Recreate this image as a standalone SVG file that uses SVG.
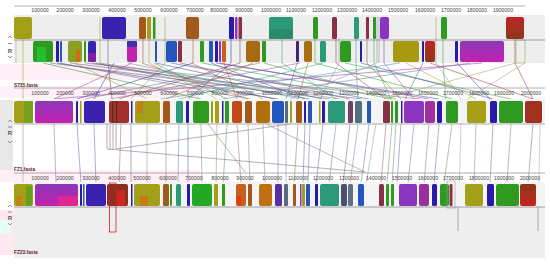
<svg xmlns="http://www.w3.org/2000/svg" width="550" height="264" viewBox="0 0 550 264">
<style>
.t{font-family:"Liberation Sans",Arial,sans-serif;font-size:5.2px;fill:#444;text-anchor:middle}
.lab{font-family:"Liberation Sans",Arial,sans-serif;font-size:4.8px;fill:#5a1f1f;font-weight:bold}
.r{font-family:"Liberation Sans",Arial,sans-serif;font-size:6px;fill:#555;font-weight:bold;text-anchor:middle}
.ctl{fill:none;stroke:#777;stroke-width:0.8}
.ax{stroke:#999;stroke-width:0.8}
rect.b{stroke:none}
.ol{fill:#a3a018}.pb{fill:#3a22b0}.br{fill:#a25a1c}.gr{fill:#2f9a20}.tl{fill:#2a9a78}.mr{fill:#8a3046}
.pu{fill:#8a34c0}.mg{fill:#c024b0}.rd{fill:#c0282a}.bl{fill:#2456c0}.db{fill:#2a1aa8}.gy{fill:#5a6a80}.or{fill:#c8601a}
.bg{fill:#eeeeee}.band{fill:#f4f4f4}
#conn1 line{stroke-width:0.7;opacity:0.75}
#conn2 line{stroke-width:0.8;opacity:0.6}
.v line{stroke-width:0.7;opacity:0.8}
</style>
<defs>
<linearGradient id="pm" x1="0" y1="0" x2="0" y2="1"><stop offset="0" stop-color="#8a38b8"/><stop offset="1" stop-color="#c420b0"/></linearGradient>
<linearGradient id="rb" x1="0" y1="0" x2="0" y2="1"><stop offset="0" stop-color="#c02424"/><stop offset="1" stop-color="#8a3a1a"/></linearGradient>
<linearGradient id="br2" x1="0" y1="0" x2="0" y2="1"><stop offset="0" stop-color="#8a3a1a"/><stop offset="1" stop-color="#c82020"/></linearGradient>
</defs>
<rect width="550" height="264" fill="#ffffff"/>

<!-- faint highlight noise -->
<g opacity="0.4">
<rect x="40" y="30" width="20" height="12" fill="#b8fff0"/>
<rect x="125" y="30" width="20" height="12" fill="#ffc8e0"/>
<rect x="265" y="30" width="35" height="14" fill="#b8fff0"/>
<rect x="300" y="30" width="60" height="12" fill="#ffd0e4"/>
<rect x="395" y="30" width="50" height="12" fill="#ffd0e4"/>
<rect x="480" y="30" width="50" height="12" fill="#ffd0e4"/>
<rect x="0" y="64" width="160" height="16" fill="#ffd8ea"/>
<rect x="0" y="86" width="200" height="12" fill="#ffd8ea"/>
<rect x="0" y="170" width="200" height="12" fill="#ffd8ea"/>
<rect x="0" y="210" width="14" height="45" fill="#ffc8e0"/>
<rect x="0" y="220" width="10" height="14" fill="#b8fff0"/>
</g>

<!-- Panel 1: S735.fasta -->
<g id="s735">
<line class="ax" x1="14" y1="6" x2="525" y2="6"/>
<g>
<text class="t" x="40" y="12">100000</text><text class="t" x="65" y="12">200000</text><text class="t" x="91" y="12">300000</text><text class="t" x="117" y="12">400000</text><text class="t" x="143" y="12">500000</text><text class="t" x="169" y="12">600000</text><text class="t" x="195" y="12">700000</text><text class="t" x="219" y="12">800000</text><text class="t" x="244" y="12">900000</text><text class="t" x="271" y="12">1000000</text><text class="t" x="296" y="12">1100000</text><text class="t" x="322" y="12">1200000</text><text class="t" x="347" y="12">1300000</text><text class="t" x="372" y="12">1400000</text><text class="t" x="398" y="12">1500000</text><text class="t" x="425" y="12">1600000</text><text class="t" x="451" y="12">1700000</text><text class="t" x="477" y="12">1800000</text><text class="t" x="503" y="12">1900000</text>
</g>
<rect class="bg" x="14" y="15" width="531" height="48"/>
<g class="v">
<line x1="23" y1="39" x2="23" y2="63" stroke="#a0a020"/><line x1="16" y1="40" x2="16" y2="63" stroke="#b0b060"/>
<line x1="100" y1="17" x2="100" y2="63" stroke="#a0a040"/><line x1="108" y1="39" x2="108" y2="63" stroke="#6050a0"/>
<line x1="143" y1="39" x2="143" y2="63" stroke="#a06030"/><line x1="149" y1="39" x2="149" y2="63" stroke="#a0a040"/>
<line x1="165" y1="17" x2="165" y2="63" stroke="#a0a040"/><line x1="193" y1="39" x2="193" y2="63" stroke="#a06030"/>
<line x1="231" y1="39" x2="231" y2="63" stroke="#3030a0"/><line x1="240" y1="39" x2="240" y2="63" stroke="#804050"/>
<line x1="282" y1="39" x2="282" y2="63" stroke="#40a080"/><line x1="315" y1="39" x2="315" y2="63" stroke="#40a040"/>
<line x1="336" y1="39" x2="336" y2="63" stroke="#804050"/><line x1="339" y1="39" x2="339" y2="63" stroke="#9090a0"/>
<line x1="356" y1="39" x2="356" y2="63" stroke="#40a090"/><line x1="367" y1="39" x2="367" y2="63" stroke="#806040"/>
<line x1="374" y1="39" x2="374" y2="63" stroke="#40a040"/><line x1="377" y1="17" x2="377" y2="63" stroke="#9090a0"/>
<line x1="379" y1="17" x2="379" y2="63" stroke="#9090a0"/><line x1="384" y1="39" x2="384" y2="63" stroke="#8040c0"/>
<line x1="436" y1="17" x2="436" y2="63" stroke="#a0a060"/><line x1="443" y1="39" x2="443" y2="63" stroke="#40a040"/>
<line x1="515" y1="39" x2="515" y2="63" stroke="#8a3a2a"/>
</g>
<rect x="516" y="40" width="9" height="23" fill="none" stroke="#b0b070" stroke-width="0.7"/>
<line x1="14" y1="40" x2="545" y2="40" stroke="#888" stroke-width="0.8"/>
<!-- upper blocks -->
<rect class="b ol" x="14" y="17" width="18" height="22" rx="2"/>
<rect class="b pb" x="102" y="17" width="24" height="22" rx="2"/>
<rect class="b br" x="139" y="17" width="7" height="22" rx="1.5"/>
<rect class="b ol" x="147" y="17" width="4" height="22" rx="1"/>
<rect class="b gr" x="153" y="17" width="2.5" height="22" rx="1"/>
<rect class="b br" x="186" y="17" width="13" height="22" rx="2"/>
<rect class="b db" x="229" y="17" width="5" height="22" rx="1"/>
<rect class="b pu" x="235" y="17" width="2.5" height="22" rx="1"/>
<rect class="b mr" x="238.5" y="17" width="3.5" height="22" rx="1"/>
<rect class="b tl" x="269" y="17" width="24" height="22" rx="2"/>
<rect x="269" y="29" width="24" height="10" fill="#2a8a6a" rx="1"/>
<rect class="b gr" x="313" y="17" width="5" height="22" rx="1.5"/>
<rect class="b mr" x="332" y="17" width="5" height="22" rx="1.5"/>
<rect class="b tl" x="354" y="17" width="5" height="22" rx="1.5"/>
<rect class="b mr" x="366" y="17" width="3" height="22" rx="1"/>
<rect class="b gr" x="373" y="17" width="3" height="22" rx="1"/>
<rect class="b pu" x="380" y="17" width="9" height="22" rx="2"/>
<rect class="b gr" x="441" y="17" width="6" height="22" rx="1.5"/>
<rect x="506" y="17" width="18" height="22" rx="2" fill="url(#rb)"/>
<!-- lower blocks -->
<rect class="b gr" x="33" y="41" width="20" height="21" rx="2"/>
<rect x="37" y="47" width="9" height="15" fill="#20c830" opacity="0.8"/>
<rect class="b db" x="56" y="41" width="3" height="21" rx="1"/>
<rect class="b bl" x="60" y="41" width="2" height="21" rx="1"/>
<rect class="b" x="68" y="41" width="14" height="21" rx="2" fill="#8aa020"/>
<rect x="76" y="50" width="4" height="12" fill="#e06010" opacity="0.8"/>
<rect class="b gr" x="84" y="41" width="2" height="21" rx="1"/>
<rect class="b pb" x="88" y="41" width="8" height="21" rx="2"/>
<rect x="88" y="53" width="8" height="9" fill="#a020a0" opacity="0.7"/>
<rect class="b mg" x="127" y="41" width="10" height="21" rx="2"/>
<rect x="127" y="41" width="10" height="6" fill="#4030b0" rx="1"/>
<rect class="b bl" x="155" y="41" width="2" height="21" rx="1"/>
<rect class="b bl" x="166" y="41" width="11" height="21" rx="2"/>
<rect class="b mr" x="178" y="41" width="4" height="21" rx="1"/>
<rect class="b gr" x="200" y="41" width="4" height="21" rx="1"/>
<rect class="b bl" x="209" y="41" width="4" height="21" rx="1"/>
<rect class="b db" x="215" y="41" width="3" height="21" rx="1"/>
<rect class="b pu" x="219" y="41" width="2" height="21" rx="1"/>
<rect class="b or" x="222" y="41" width="4" height="21" rx="1"/>
<rect class="b" x="246" y="41" width="14" height="21" rx="2" fill="#a86a10"/>
<rect class="b gr" x="262" y="41" width="4" height="21" rx="1"/>
<rect class="b" x="296" y="41" width="3" height="21" rx="1" fill="#40207a"/>
<rect class="b" x="304" y="41" width="8" height="21" rx="2" fill="#a87010"/>
<rect class="b tl" x="320" y="41" width="6" height="21" rx="1.5"/>
<rect class="b gr" x="340" y="41" width="11" height="21" rx="2"/>
<rect class="b db" x="360" y="41" width="2" height="21" rx="1"/>
<rect class="b" x="393" y="41" width="26" height="21" rx="2" fill="#a89a10"/>
<rect class="b db" x="422" y="41" width="2" height="21" rx="1"/>
<rect x="425" y="41" width="10" height="21" rx="2" fill="url(#rb)"/>
<rect class="b db" x="455" y="41" width="3" height="21" rx="1"/>
<rect x="460" y="41" width="44" height="21" rx="2" fill="url(#pm)"/>
<!-- controls -->
<polyline class="ctl" points="8,38 10,36 12,38"/>
<line class="ctl" x1="8" y1="43.5" x2="12" y2="43.5"/>
<text class="r" x="10" y="53">R</text>
<polyline class="ctl" points="8,56 10,58 12,56"/>
<text class="lab" x="14" y="87">S735.fasta</text>
</g>

<!-- Connectors -->
<g id="conn1">
<line x1="23" y1="63" x2="23" y2="99" stroke="#a0a020"/>
<line x1="43" y1="63" x2="201" y2="99" stroke="#2a8a30"/>
<line x1="57" y1="63" x2="278" y2="99" stroke="#3040a0"/>
<line x1="75" y1="63" x2="147" y2="99" stroke="#9a9a30"/>
<line x1="92" y1="63" x2="310" y2="99" stroke="#4050a0"/>
<line x1="108" y1="63" x2="112" y2="99" stroke="#903040"/>
<line x1="114" y1="63" x2="94" y2="99" stroke="#3a2ab0"/>
<line x1="132" y1="63" x2="54" y2="99" stroke="#b030a0"/>
<line x1="142" y1="63" x2="248" y2="99" stroke="#a06030"/>
<line x1="149" y1="63" x2="217" y2="99" stroke="#a0a040"/>
<line x1="154" y1="63" x2="227" y2="99" stroke="#30a040"/>
<line x1="156" y1="63" x2="323" y2="99" stroke="#3050b0"/>
<line x1="165" y1="63" x2="131" y2="99" stroke="#909040"/>
<line x1="171" y1="63" x2="369" y2="99" stroke="#3060b0"/>
<line x1="180" y1="63" x2="350" y2="99" stroke="#804050"/>
<line x1="193" y1="63" x2="77" y2="99" stroke="#3030a0"/>
<line x1="192" y1="63" x2="263" y2="99" stroke="#a07030"/>
<line x1="202" y1="63" x2="392" y2="99" stroke="#30a040"/>
<line x1="211" y1="63" x2="305" y2="99" stroke="#3050b0"/>
<line x1="216" y1="63" x2="439" y2="99" stroke="#3040a0"/>
<line x1="220" y1="63" x2="429" y2="99" stroke="#a030a0"/>
<line x1="224" y1="63" x2="237" y2="99" stroke="#c04020"/>
<line x1="231" y1="63" x2="188" y2="99" stroke="#3030b0"/>
<line x1="240" y1="63" x2="119" y2="99" stroke="#903040"/>
<line x1="253" y1="63" x2="166" y2="99" stroke="#a06020"/>
<line x1="264" y1="63" x2="396" y2="99" stroke="#30a030"/>
<line x1="282" y1="63" x2="336" y2="99" stroke="#30a080"/>
<line x1="297" y1="63" x2="286" y2="99" stroke="#506080"/>
<line x1="308" y1="63" x2="298" y2="99" stroke="#a06030"/>
<line x1="315" y1="63" x2="452" y2="99" stroke="#30a030"/>
<line x1="323" y1="63" x2="179" y2="99" stroke="#30a080"/>
<line x1="336" y1="63" x2="386" y2="99" stroke="#904050"/>
<line x1="339" y1="63" x2="320" y2="99" stroke="#9090a0"/>
<line x1="345" y1="63" x2="511" y2="99" stroke="#30a030"/>
<line x1="356" y1="63" x2="358" y2="99" stroke="#40a090"/>
<line x1="361" y1="63" x2="493" y2="99" stroke="#3040b0"/>
<line x1="367" y1="63" x2="401" y2="99" stroke="#806040"/>
<line x1="374" y1="63" x2="391" y2="99" stroke="#30a030"/>
<line x1="377" y1="63" x2="290" y2="99" stroke="#9090a0"/>
<line x1="384" y1="63" x2="414" y2="99" stroke="#8040c0"/>
<line x1="406" y1="63" x2="476" y2="99" stroke="#a0a020"/>
<line x1="423" y1="63" x2="405" y2="99" stroke="#505070"/>
<line x1="430" y1="63" x2="533" y2="99" stroke="#a03030"/>
<line x1="436" y1="63" x2="461" y2="99" stroke="#a0a060"/>
<line x1="443" y1="63" x2="446" y2="99" stroke="#30a030"/>
<line x1="457" y1="63" x2="490" y2="99" stroke="#3030b0"/>
<line x1="482" y1="63" x2="54" y2="99" stroke="#a030b0"/>
<line x1="470" y1="63" x2="222" y2="99" stroke="#7070a0"/>
<line x1="515" y1="63" x2="533" y2="99" stroke="#8a3a2a"/>
<line x1="516" y1="63" x2="384" y2="99" stroke="#a0a060"/>
<line x1="525" y1="63" x2="467" y2="99" stroke="#a0a060"/>
<line x1="100" y1="63" x2="340" y2="99" stroke="#707080"/>
<line x1="60" y1="63" x2="250" y2="99" stroke="#707080"/>
<line x1="85" y1="63" x2="420" y2="99" stroke="#707080"/>
<line x1="128" y1="63" x2="300" y2="99" stroke="#40b090"/>
<line x1="70" y1="63" x2="362" y2="99" stroke="#606070"/>
<line x1="96" y1="63" x2="275" y2="99" stroke="#606070"/>
<line x1="50" y1="63" x2="330" y2="99" stroke="#606070"/>
<line x1="300" y1="63" x2="110" y2="99" stroke="#707080"/>
<line x1="260" y1="63" x2="85" y2="99" stroke="#707080"/>
<line x1="400" y1="63" x2="160" y2="99" stroke="#40a0a0"/>
</g>

<g id="conn2">
<line x1="23" y1="124" x2="23" y2="184" stroke="#8a8a50"/>
<line x1="54" y1="124" x2="56" y2="184" stroke="#8a5a9a"/>
<line x1="77" y1="124" x2="81" y2="184" stroke="#5a5a9a"/>
<line x1="94" y1="124" x2="96" y2="184" stroke="#5a5aa0"/>
<line x1="107" y1="124" x2="107" y2="149" stroke="#6a4a5a"/>
<line x1="110" y1="124" x2="110" y2="150" stroke="#6a4a5a"/>
<line x1="113" y1="124" x2="113" y2="150" stroke="#6a4a5a"/>
<line x1="116" y1="124" x2="116" y2="149" stroke="#6a4a5a"/>
<line x1="107" y1="149" x2="365" y2="172" stroke="#6a5a6a"/>
<line x1="116" y1="149" x2="290" y2="124" stroke="#6a5a6a"/>
<line x1="121" y1="124" x2="119" y2="184" stroke="#8a5a5a"/>
<line x1="131" y1="124" x2="131" y2="184" stroke="#5a5a9a"/>
<line x1="147" y1="124" x2="147" y2="184" stroke="#8a8a50"/>
<line x1="166" y1="124" x2="166" y2="184" stroke="#8a6a50"/>
<line x1="179" y1="124" x2="178" y2="184" stroke="#4a8a7a"/>
<line x1="188" y1="124" x2="188" y2="184" stroke="#4a4a9a"/>
<line x1="201" y1="124" x2="202" y2="184" stroke="#5a8a5a"/>
<line x1="208" y1="124" x2="245" y2="172" stroke="#7a6a6a"/>
<line x1="217" y1="124" x2="216" y2="184" stroke="#8a8a50"/>
<line x1="227" y1="124" x2="223" y2="184" stroke="#5a8a5a"/>
<line x1="237" y1="124" x2="241" y2="184" stroke="#8a6a5a"/>
<line x1="248" y1="124" x2="250" y2="184" stroke="#8a6a50"/>
<line x1="263" y1="124" x2="265" y2="184" stroke="#8a7a50"/>
<line x1="266" y1="124" x2="365" y2="172" stroke="#8a6a6a"/>
<line x1="278" y1="124" x2="278" y2="184" stroke="#5a6a9a"/>
<line x1="286" y1="124" x2="286" y2="184" stroke="#6a7a8a"/>
<line x1="298" y1="124" x2="294" y2="184" stroke="#8a6a50"/>
<line x1="305" y1="124" x2="303" y2="184" stroke="#5a5a9a"/>
<line x1="310" y1="124" x2="308" y2="184" stroke="#5a6a9a"/>
<line x1="323" y1="124" x2="316" y2="184" stroke="#5a5a9a"/>
<line x1="336" y1="124" x2="329" y2="184" stroke="#4a8a7a"/>
<line x1="350" y1="124" x2="343" y2="184" stroke="#6a5a6a"/>
<line x1="358" y1="124" x2="350" y2="184" stroke="#6a7a8a"/>
<line x1="369" y1="124" x2="361" y2="184" stroke="#5a6a9a"/>
<line x1="376" y1="124" x2="366" y2="184" stroke="#8a8a9a"/>
<line x1="386" y1="124" x2="381" y2="184" stroke="#8a5a5a"/>
<line x1="392" y1="124" x2="387" y2="184" stroke="#5a8a5a"/>
<line x1="396" y1="124" x2="392" y2="184" stroke="#5a8a5a"/>
<line x1="401" y1="124" x2="397" y2="184" stroke="#5a5a9a"/>
<line x1="414" y1="124" x2="408" y2="184" stroke="#7a5a9a"/>
<line x1="429" y1="124" x2="424" y2="184" stroke="#8a5a9a"/>
<line x1="439" y1="124" x2="434" y2="184" stroke="#5a5a9a"/>
<line x1="452" y1="124" x2="444" y2="184" stroke="#5a8a5a"/>
<line x1="461" y1="124" x2="458" y2="231" stroke="#9a9a9a"/>
<line x1="476" y1="124" x2="474" y2="184" stroke="#8a8a50"/>
<line x1="493" y1="124" x2="490" y2="184" stroke="#5a5a9a"/>
<line x1="511" y1="124" x2="507" y2="184" stroke="#5a8a5a"/>
<line x1="533" y1="124" x2="528" y2="184" stroke="#8a5a5a"/>
<line x1="540" y1="124" x2="538" y2="231" stroke="#9a9a9a"/>
</g>

<!-- Panel 2: FZ1.fasta -->
<g id="fz1">
<rect x="0" y="100" width="13" height="70" fill="#e8e8e8"/>
<line class="ax" x1="14" y1="88" x2="545" y2="88"/>
<g>
<text class="t" x="40" y="95">100000</text><text class="t" x="65" y="95">200000</text><text class="t" x="91" y="95">300000</text><text class="t" x="117" y="95">400000</text><text class="t" x="143" y="95">500000</text><text class="t" x="169" y="95">600000</text><text class="t" x="195" y="95">700000</text><text class="t" x="220" y="95">800000</text><text class="t" x="245" y="95">900000</text><text class="t" x="272" y="95">1000000</text><text class="t" x="298" y="95">1100000</text><text class="t" x="323" y="95">1200000</text><text class="t" x="349" y="95">1300000</text><text class="t" x="376" y="95">1400000</text><text class="t" x="402" y="95">1500000</text><text class="t" x="428" y="95">1600000</text><text class="t" x="453" y="95">1700000</text><text class="t" x="479" y="95">1800000</text><text class="t" x="504" y="95">1900000</text><text class="t" x="531" y="95">2000000</text>
</g>
<rect class="band" x="14" y="99" width="531" height="25"/>
<line x1="14" y1="124" x2="545" y2="124" stroke="#999" stroke-width="0.8"/>
<rect class="b ol" x="14" y="101" width="19" height="22" rx="2"/>
<rect x="24" y="101" width="9" height="22" fill="#60a020" opacity="0.6"/>
<rect x="35" y="101" width="38" height="22" rx="2" fill="url(#pm)"/>
<rect class="b db" x="76" y="101" width="2" height="22" rx="1"/>
<rect class="b ol" x="80" y="101" width="1.5" height="22"/>
<rect class="b pb" x="84" y="101" width="21" height="22" rx="2"/>
<rect class="b" x="109" y="101" width="20" height="22" rx="2" fill="#a03028"/>
<rect x="112" y="101" width="1.2" height="22" fill="#5a2a20"/><rect x="116" y="101" width="1.2" height="22" fill="#5a2a20"/>
<rect class="b db" x="131" y="101" width="1.5" height="22"/>
<rect class="b ol" x="135" y="101" width="25" height="22" rx="2"/>
<rect x="137" y="101" width="6" height="12" fill="#d07020" opacity="0.6"/>
<rect class="b br" x="163" y="101" width="7" height="22" rx="1.5"/>
<rect class="b tl" x="176" y="101" width="7" height="22" rx="1.5"/>
<rect class="b db" x="186" y="101" width="3" height="22" rx="1"/>
<rect class="b gr" x="193" y="101" width="16" height="22" rx="2"/>
<rect class="b ol" x="211" y="101" width="2" height="22" rx="1"/>
<rect class="b ol" x="215" y="101" width="4" height="22" rx="1"/>
<rect class="b db" x="222" y="101" width="1.5" height="22"/>
<rect class="b gr" x="225" y="101" width="4" height="22" rx="1"/>
<rect class="b" x="232" y="101" width="10" height="22" rx="2" fill="#c04a1a"/>
<rect class="b br" x="245" y="101" width="7" height="22" rx="1.5"/>
<rect class="b" x="256" y="101" width="14" height="22" rx="2" fill="#b07010"/>
<rect class="b bl" x="272" y="101" width="12" height="22" rx="2"/>
<rect class="b gy" x="285" y="101" width="3" height="22" rx="1"/>
<rect class="b ol" x="290" y="101" width="2" height="22" rx="1"/>
<rect class="b br" x="296" y="101" width="6" height="22" rx="1.5"/>
<rect class="b db" x="304" y="101" width="2" height="22" rx="1"/>
<rect class="b bl" x="308" y="101" width="4" height="22" rx="1"/>
<rect class="b ol" x="319" y="101" width="1.5" height="22"/>
<rect class="b db" x="322" y="101" width="3" height="22" rx="1"/>
<rect class="b tl" x="328" y="101" width="17" height="22" rx="2"/>
<rect class="b" x="348" y="101" width="5" height="22" rx="1.5" fill="#704060"/>
<rect class="b" x="355" y="101" width="7" height="22" rx="1.5" fill="#507080"/>
<rect class="b bl" x="367" y="101" width="4" height="22" rx="1"/>
<rect class="b mr" x="383" y="101" width="7" height="22" rx="1.5"/>
<rect class="b gr" x="391" y="101" width="2" height="22" rx="1"/>
<rect class="b gr" x="395" y="101" width="3" height="22" rx="1"/>
<rect class="b db" x="401" y="101" width="1.5" height="22"/>
<rect class="b pu" x="404" y="101" width="20" height="22" rx="2"/>
<rect class="b" x="425" y="101" width="10" height="22" rx="2" fill="#a030a0"/>
<rect class="b db" x="437" y="101" width="5" height="22" rx="1.5"/>
<rect class="b gr" x="446" y="101" width="12" height="22" rx="2"/>
<rect class="b ol" x="467" y="101" width="19" height="22" rx="2"/>
<rect class="b db" x="490" y="101" width="7" height="22" rx="1.5"/>
<rect class="b gr" x="499" y="101" width="24" height="22" rx="2"/>
<rect class="b" x="525" y="101" width="17" height="22" rx="2" fill="#a03020"/>
<polyline class="ctl" points="8,122 10,120 12,122"/>
<line class="ctl" x1="8" y1="127" x2="12" y2="127"/>
<text class="r" x="10" y="135">R</text>
<polyline class="ctl" points="8,141 10,143 12,141"/>
<text class="lab" x="14" y="171">FZ1.fasta</text>
</g>

<!-- Panel 3: FZ23.fasta -->
<g id="fz23">
<line class="ax" x1="14" y1="173" x2="545" y2="173"/>
<g>
<text class="t" x="40" y="180">100000</text><text class="t" x="65" y="180">200000</text><text class="t" x="91" y="180">300000</text><text class="t" x="117" y="180">400000</text><text class="t" x="142" y="180">500000</text><text class="t" x="168" y="180">600000</text><text class="t" x="194" y="180">700000</text><text class="t" x="220" y="180">800000</text><text class="t" x="245" y="180">900000</text><text class="t" x="272" y="180">1000000</text><text class="t" x="298" y="180">1100000</text><text class="t" x="323" y="180">1200000</text><text class="t" x="349" y="180">1300000</text><text class="t" x="376" y="180">1400000</text><text class="t" x="402" y="180">1500000</text><text class="t" x="428" y="180">1600000</text><text class="t" x="453" y="180">1700000</text><text class="t" x="479" y="180">1800000</text><text class="t" x="504" y="180">1900000</text><text class="t" x="530" y="180">2000000</text>
</g>
<rect class="band" x="14" y="182" width="531" height="25"/>
<rect class="bg" x="14" y="207" width="531" height="51"/>
<line x1="458" y1="207" x2="458" y2="231" stroke="#999" stroke-width="0.8"/>
<line x1="538" y1="207" x2="538" y2="231" stroke="#999" stroke-width="0.8"/>
<line x1="14" y1="207" x2="545" y2="207" stroke="#888" stroke-width="0.8"/>
<rect class="b ol" x="14" y="184" width="19" height="22" rx="2"/>
<rect x="16" y="196" width="6" height="10" fill="#d07010" opacity="0.6"/>
<rect x="26" y="186" width="6" height="20" fill="#40a020" opacity="0.6"/>
<rect x="35" y="184" width="43" height="22" rx="2" fill="url(#pm)"/>
<rect x="58" y="196" width="20" height="10" fill="#ff2a7a" opacity="0.55"/>
<rect class="b db" x="80" y="184" width="2" height="22" rx="1"/>
<rect class="b bl" x="83" y="184" width="1.5" height="22"/>
<rect class="b pb" x="86" y="184" width="20" height="22" rx="2"/>
<rect class="b" x="107" y="184" width="21" height="22" rx="2" fill="#8a3020"/>
<rect x="117" y="190" width="8" height="16" fill="#ff2020" opacity="0.6"/>
<rect class="b db" x="131" y="184" width="1.5" height="22"/>
<rect class="b ol" x="134" y="184" width="26" height="22" rx="2"/>
<rect x="140" y="196" width="8" height="10" fill="#e06010" opacity="0.6"/>
<rect class="b br" x="163" y="184" width="6" height="22" rx="1.5"/>
<rect class="b gr" x="170" y="184" width="2" height="22" rx="1"/>
<rect class="b tl" x="176" y="184" width="5" height="22" rx="1.5"/>
<rect class="b db" x="187" y="184" width="3" height="22" rx="1"/>
<rect class="b" x="192" y="184" width="20" height="22" rx="2" fill="#22a822"/>
<rect class="b ol" x="214" y="184" width="4" height="22" rx="1"/>
<rect class="b gr" x="222" y="184" width="3" height="22" rx="1"/>
<rect class="b or" x="236" y="184" width="10" height="22" rx="2"/>
<rect x="237" y="196" width="4" height="10" fill="#ff2010" opacity="0.6"/>
<rect class="b br" x="248" y="184" width="4" height="22" rx="1"/>
<rect class="b" x="259" y="184" width="13" height="22" rx="2" fill="#c07010"/>
<rect class="b" x="275" y="184" width="7" height="22" rx="1.5" fill="#5a30a0"/>
<rect class="b gy" x="284" y="184" width="4" height="22" rx="1"/>
<rect class="b br" x="293" y="184" width="3" height="22" rx="1"/>
<rect class="b pu" x="300" y="184" width="1.5" height="22"/>
<rect class="b ol" x="302" y="184" width="3" height="22" rx="1"/>
<rect class="b bl" x="306" y="184" width="4" height="22" rx="1"/>
<rect class="b db" x="315" y="184" width="3" height="22" rx="1"/>
<rect class="b tl" x="320" y="184" width="19" height="22" rx="2"/>
<rect class="b" x="341" y="184" width="6" height="22" rx="1.5" fill="#4a5070"/>
<rect class="b" x="348" y="184" width="5" height="22" rx="1.5" fill="#607080"/>
<rect class="b bl" x="358" y="184" width="6" height="22" rx="1.5"/>
<rect class="b mr" x="379" y="184" width="5" height="22" rx="1.5"/>
<rect class="b gr" x="386" y="184" width="3" height="22" rx="1"/>
<rect class="b gr" x="391" y="184" width="3" height="22" rx="1"/>
<rect class="b pu" x="399" y="184" width="18" height="22" rx="2"/>
<rect class="b" x="419" y="184" width="10" height="22" rx="2" fill="#9a30a0"/>
<rect class="b db" x="432" y="184" width="5" height="22" rx="1.5"/>
<rect class="b gr" x="440" y="184" width="9" height="22" rx="2"/>
<rect class="b mr" x="449.5" y="184" width="3" height="22" rx="1"/>
<rect x="447" y="181" width="8" height="27" fill="none" stroke="#999" stroke-width="0.6"/>
<rect class="b ol" x="465" y="184" width="18" height="22" rx="2"/>
<rect class="b db" x="487" y="184" width="7" height="22" rx="1.5"/>
<rect class="b gr" x="496" y="184" width="23" height="22" rx="2"/>
<rect x="520" y="184" width="16" height="22" rx="2" fill="url(#br2)"/>
<rect x="109.5" y="183" width="6.5" height="49" fill="none" stroke="#d02030" stroke-width="0.8"/>
<polyline class="ctl" points="8,207 10,205 12,207"/>
<line class="ctl" x1="8" y1="212" x2="12" y2="212"/>
<text class="r" x="10" y="220">R</text>
<polyline class="ctl" points="8,223 10,225 12,223"/>
<text class="lab" x="14" y="254">FZ23.fasta</text>
</g>
</svg>
